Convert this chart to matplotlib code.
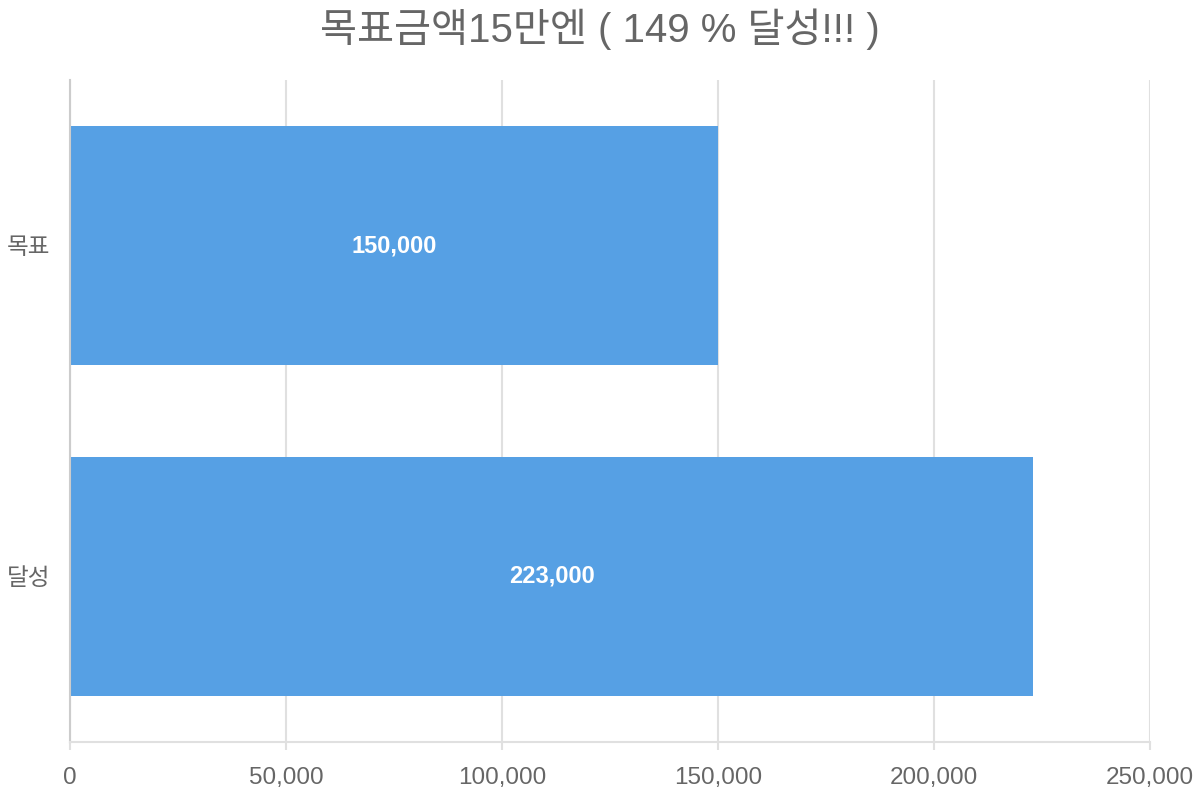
import matplotlib
matplotlib.use("Agg")
import matplotlib.pyplot as plt
from matplotlib.ticker import FuncFormatter

plt.rcParams['font.family'] = ['Liberation Sans', 'Noto Sans CJK KR', 'DejaVu Sans']

categories = ["목표", "달성"]
values = [150000, 223000]
title = "목표금액15만엔 ( 149 % 달성!!! )"
x_ticks = [0, 50000, 100000, 150000, 200000, 250000]

bar_color = "#56a0e4"
text_color = "#666666"

fig = plt.figure(figsize=(12, 8), dpi=100)
ax = fig.add_axes([0.0583, 0.0725, 0.9, 0.8275])

pos = list(range(len(categories)))
bars = ax.barh(pos, values, height=0.72, color=bar_color, zorder=2)
for b, v in zip(bars, values):
    ax.text(v / 2, b.get_y() + b.get_height() / 2, f"{v:,}",
            ha="center", va="center", color="white",
            fontsize=17, fontweight="bold", zorder=3)

ax.set_xlim(0, 250000)
ax.set_ylim(len(categories) - 0.5, -0.5)
ax.set_yticks(pos)
ax.set_yticklabels(categories)
ax.set_xticks(x_ticks)
ax.xaxis.set_major_formatter(FuncFormatter(lambda v, p: f"{int(v):,}"))

ax.grid(axis="x", color="#e0e0e0", linewidth=1.5, zorder=0)
for s in ["top", "right"]:
    ax.spines[s].set_visible(False)
ax.spines["left"].set_color("#cccccc")
ax.spines["left"].set_linewidth(1.5)
ax.spines["bottom"].set_color("#e0e0e0")
ax.spines["bottom"].set_linewidth(1.5)

ax.tick_params(axis="x", length=6, width=1.5, color="#e0e0e0",
               labelcolor=text_color, labelsize=17.5, pad=12)
ax.tick_params(axis="y", length=0, labelcolor=text_color, labelsize=17, pad=14)

fig.suptitle(title, y=0.99, fontsize=29, color=text_color)

fig.savefig("out.png", dpi=100)
